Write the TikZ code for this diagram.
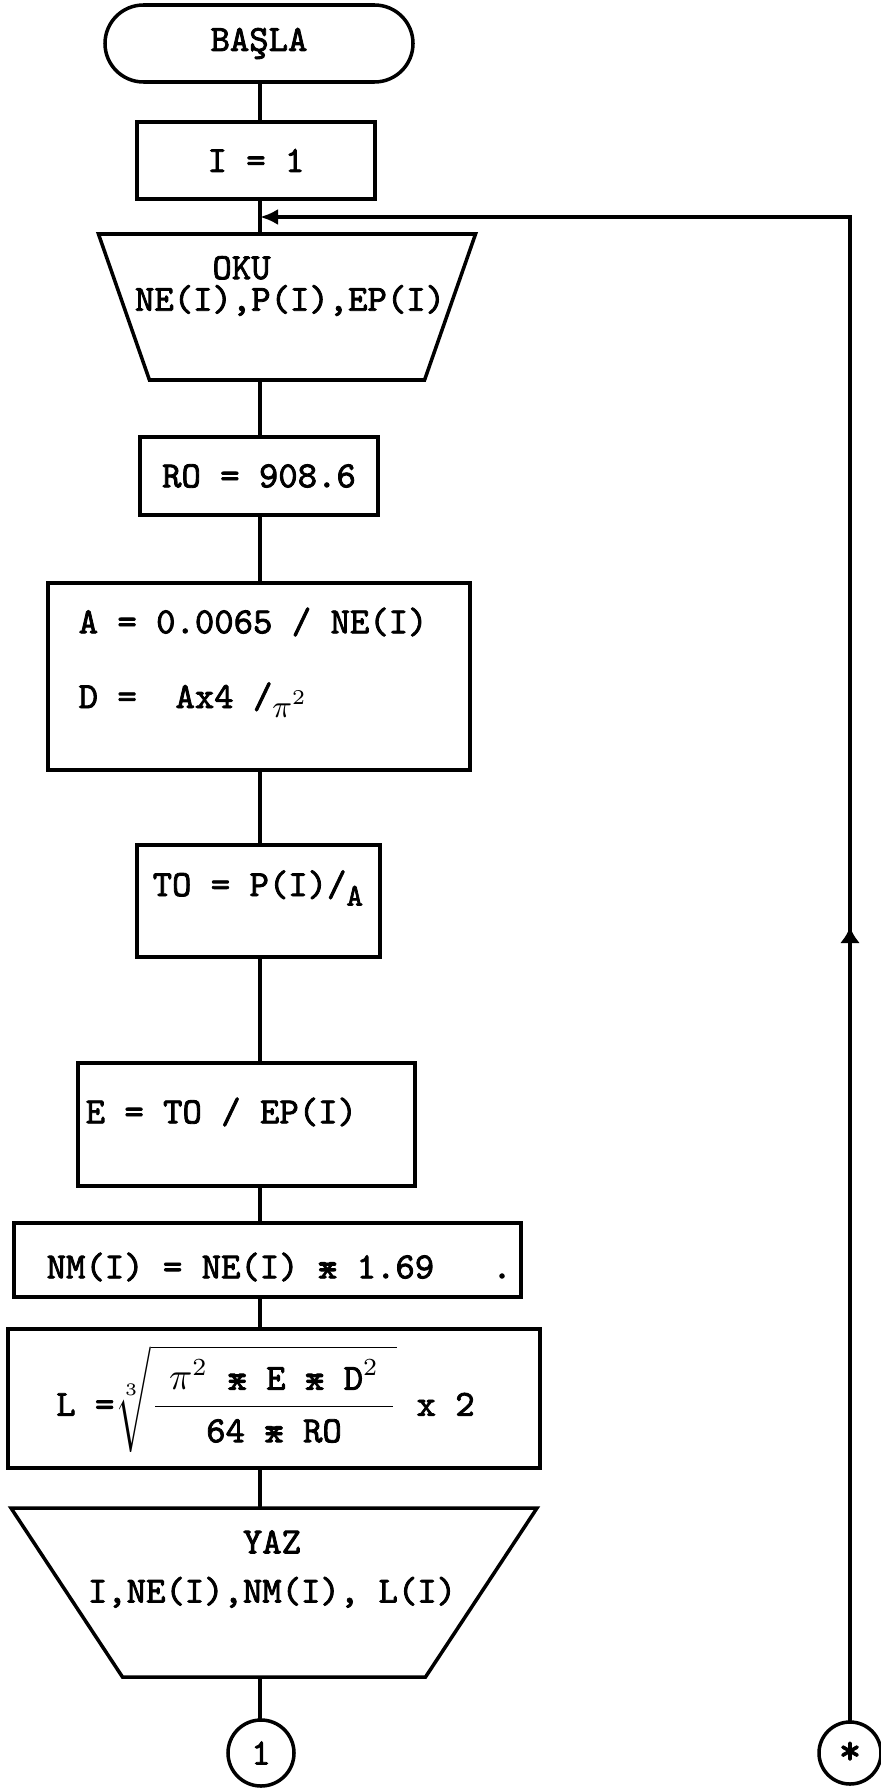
\documentclass[tikz,border=0pt]{standalone}
\usepackage{fontspec}
\setmonofont{lmmono10-regular}[Extension=.otf, FakeBold=2.2]
\usetikzlibrary{shapes.geometric,arrows.meta}
\newcommand\xmul{\ooalign{x\cr=}}
\newcommand\lowsub[1]{\raisebox{-0.6ex}{\small #1}}
\tikzset{
  flow/.style={line width=1pt},
  box/.style={draw, rectangle, line width=1pt, inner sep=0pt},
  io/.style={draw, trapezium, trapezium stretches=true, shape border rotate=180, line width=1pt, inner sep=2pt},
  conn/.style={draw, circle, line width=1pt, minimum size=0.66cm, inner sep=0pt},
}
\begin{document}
\begin{tikzpicture}[line cap=round,>=latex,font=\fontsize{10.5}{13}\selectfont\ttfamily]
  \useasboundingbox (0,0) rectangle (8.81,-17.90);
  \coordinate (spine) at (2.60,0);
  % boxes down the spine
  \node[box, rounded corners=0.385cm, minimum width=3.08cm, minimum height=0.77cm] (start) at (2.59,-0.435) {BAŞLA};
  \node[box, minimum width=2.38cm, minimum height=0.77cm] (init) at (2.56,-1.605) {I = 1};
  \node[io, trapezium angle=79.5, minimum width=3.77cm, minimum height=1.46cm] (read) at (2.87,-3.07) {};
  \node[align=left, inner sep=0pt] (readtxt) at (2.90,-2.86) {\hspace*{2.1em}OKU\\[-4pt]NE(I),P(I),EP(I)};
  \node[box, minimum width=2.38cm, minimum height=0.78cm] (ro) at (2.59,-4.76) {RO = 908.6};
  \node[box, minimum width=4.22cm, minimum height=1.87cm] (area) at (2.59,-6.765) {};
  \node[anchor=west, inner sep=0pt] (atxt) at (0.78,-6.22) {A = 0.0065 / NE(I)};
  \node[anchor=west, inner sep=0pt] (dtxt) at (0.78,-7.00) {D =~ Ax4 /\lowsub{$\pi^2$}};
  \node[box, minimum width=2.43cm, minimum height=1.12cm] (stress) at (2.585,-9.01) {};
  \node[anchor=west, inner sep=0pt] (totxt) at (1.52,-8.88) {TO = P(I)/\lowsub{A}};
  \node[box, minimum width=3.37cm, minimum height=1.23cm] (young) at (2.465,-11.245) {};
  \node[anchor=west, inner sep=0pt] (etxt) at (0.85,-11.12) {E = TO / EP(I)};
  \node[box, minimum width=5.07cm, minimum height=0.74cm] (nm) at (2.675,-12.60) {};
  \node[anchor=west, inner sep=0pt] (nmtxt) at (0.46,-12.67) {NM(I) = NE(I) \xmul{} 1.69~~~.};
  \node[box, minimum width=5.32cm, minimum height=1.39cm] (len) at (2.74,-13.985) {};
  \node[inner sep=0pt] (ltxt) at (2.655,-13.99) {L =$\sqrt[3]{\displaystyle\frac{\hspace{4pt}\mbox{$\pi^2$ \xmul{} E \xmul{} D$^2$}\hspace{4pt}}{\mbox{64 \xmul{} RO}}}$ x 2};
  \node[io, trapezium angle=69.8, minimum width=5.26cm, minimum height=1.69cm] (write) at (2.74,-15.925) {};
  \node[align=center, inner sep=0pt] (writetxt) at (2.72,-15.69) {YAZ\\[1pt]I,NE(I),NM(I), L(I)};
  \node[conn] (c1) at (2.61,-17.53) {1};
  \node[conn, minimum size=0.62cm] (cstar) at (8.50,-17.53) {\raisebox{-0.6ex}{\large *}};
  % spine
  \draw[flow] (start.south -| spine) -- (init.north -| spine);
  \draw[flow] (init.south -| spine) -- (read.north -| spine);
  \draw[flow] (read.south -| spine) -- (ro.north -| spine);
  \draw[flow] (ro.south -| spine) -- (area.north -| spine);
  \draw[flow] (area.south -| spine) -- (stress.north -| spine);
  \draw[flow] (stress.south -| spine) -- (young.north -| spine);
  \draw[flow] (young.south -| spine) -- (nm.north -| spine);
  \draw[flow] (nm.south -| spine) -- (len.north -| spine);
  \draw[flow] (len.south -| spine) -- (write.north -| spine);
  \draw[flow] (write.south -| spine) -- (c1.north -| spine);
  % loop back
  \coordinate (loopin) at (2.60,-2.17);
  \coordinate (looparrow) at (8.50,-9.27);
  \draw[flow, -{Latex[length=1.8mm,width=1.6mm]}] (cstar.north) -- (cstar.north |- loopin) -- (loopin);
  \draw[flow, -{Latex[length=1.6mm,width=2mm]}] ([yshift=-0.3cm]looparrow) -- (looparrow);
\end{tikzpicture}
\end{document}
